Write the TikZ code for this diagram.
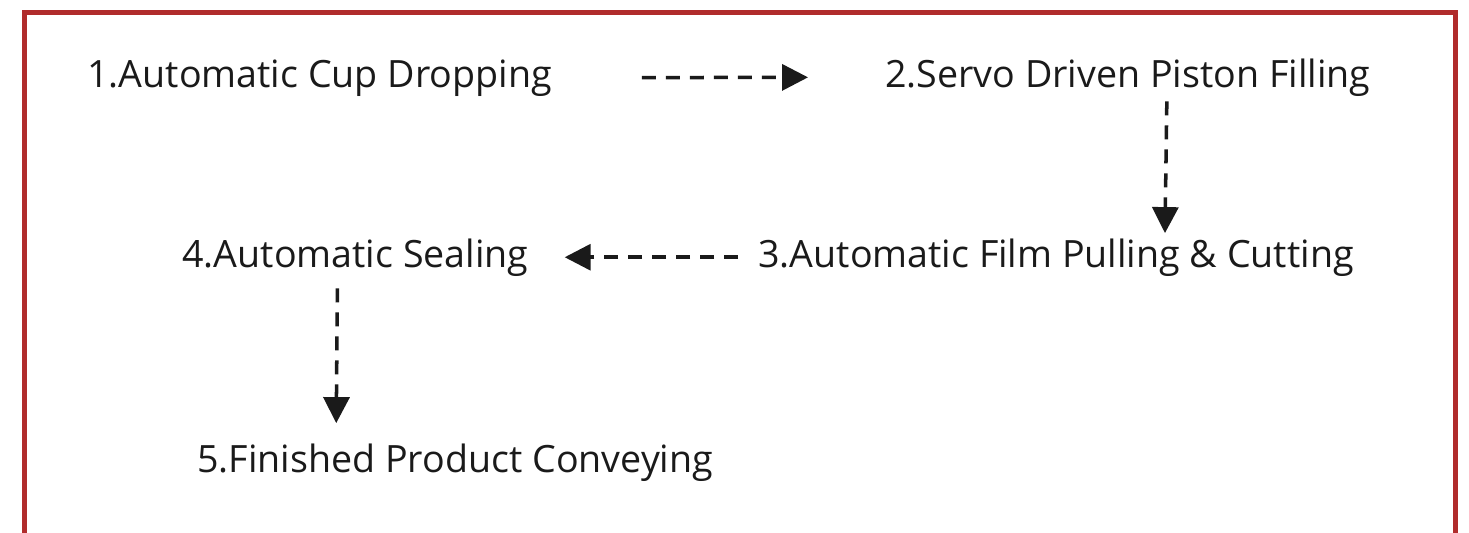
\documentclass[tikz,border=0pt]{standalone}
\usepackage{fontspec}
\setmainfont{Open Sans}
\usepackage{tikz}
\usetikzlibrary{arrows.meta}

\definecolor{frame}{RGB}{176,44,44}
\definecolor{ink}{RGB}{26,26,26}

\begin{document}
\begin{tikzpicture}[x=0.02cm, y=-0.02cm,
    stage/.style={anchor=base west, inner sep=0pt, text=ink, font=\fontsize{21.4}{25}\selectfont},
    flow/.style={draw=ink, line width=2pt, dash pattern=on 0.28cm off 0.2cm,
      -{Triangle[length=0.52cm, width=0.52cm]}}]
    \useasboundingbox (0,0) rectangle (1469,532);
    \draw[frame, line width=0.1cm] (24.5,560) -- (24.5,12.5) -- (1455,12.5) -- (1455,560);
    \node[stage] (c1) at (87,87) {1.Automatic Cup Dropping};
    \node[stage] (c2) at (885,87) {2.Servo Driven Piston Filling};
    \node[stage] (c3) at (758,267) {3.Automatic Film Pulling \& Cutting};
    \node[stage] (c4) at (182,267) {4.Automatic Sealing};
    \node[stage] (c5) at (197,472) {5.Finished Product Conveying};
    \draw[flow, shorten <=1.8cm, shorten >=1.54cm] (c1.east) -- (c2.west);
    \draw[flow] ([xshift=0.78cm, yshift=-0.1cm]c2.south) -- ([xshift=2.18cm, yshift=0.1cm]c3.north);
    \draw[flow, shorten <=0.4cm, shorten >=0.72cm] (c3.west) -- (c4.east);
    \draw[flow] ([xshift=-0.36cm, yshift=-0.24cm]c4.south) -- ([xshift=-2.38cm, yshift=0.4cm]c5.north);
  \end{tikzpicture}
\end{document}
